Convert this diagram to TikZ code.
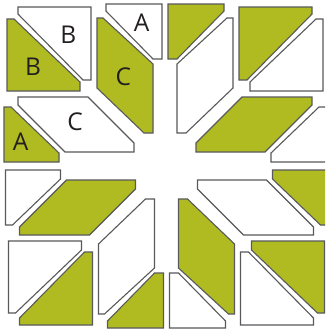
\documentclass[tikz,border=0pt]{standalone}
\usepackage{fontspec}
\setmainfont{Open Sans}
\definecolor{olive}{RGB}{176,187,34}
\definecolor{edge}{RGB}{88,89,91}
\definecolor{ink}{RGB}{35,31,32}
\tikzset{
  piece/.style={draw=edge, line width=1.1pt, line join=miter},
  lbl/.style={text=ink, font=\fontsize{24.5}{24.5}\selectfont, inner sep=0pt}
}
\newcommand\myquad[2]{%
  \filldraw[piece, fill=#1] (106,4)--(162,4)--(162,59)--(153,59)--(106,11)--cycle;
  \filldraw[piece, fill=#2] (97,18)--(103,18)--(153,64)--(153,133)--(144,133)--(97,88)--cycle;
  \filldraw[piece, fill=#1] (18,7)--(91,7)--(91,80)--(83,80)--(18,14)--cycle;
  \filldraw[piece, fill=#2] (7,19)--(14,19)--(80,82)--(80,91)--(7,91)--cycle;
  \filldraw[piece, fill=#1] (18,97)--(88,97)--(134,143)--(134,152)--(65,152)--(18,105)--cycle;
  \filldraw[piece, fill=#2] (4,107)--(11,107)--(59,153)--(59,162)--(4,162)--cycle;
}
\begin{document}
\begin{tikzpicture}[x=1pt,y=-1pt]
\useasboundingbox (0,0) rectangle (325,330);
\fill[white] (0,0) rectangle (325,330);
\begin{scope}
  \clip (0,0) rectangle (325,330);
  \myquad{white}{olive}
  \begin{scope}[shift={(330,0)}, xscale=-1]
    \myquad{olive}{white}
  \end{scope}
  \begin{scope}[shift={(1.5,332)}, yscale=-1]
    \myquad{olive}{white}
  \end{scope}
  \begin{scope}[shift={(331.5,332)}, xscale=-1, yscale=-1]
    \myquad{white}{olive}
  \end{scope}
\end{scope}
\node[lbl] (la1) at (141.7,22.5) {A};
\node[lbl] (lb1) at (68.3,34.5) {B};
\node[lbl] (lb2) at (33,67) {B};
\node[lbl] (lc1) at (123.3,77) {C};
\node[lbl] (lc2) at (75,121.7) {C};
\node[lbl] (la2) at (20.7,141.5) {A};
\end{tikzpicture}
\end{document}
